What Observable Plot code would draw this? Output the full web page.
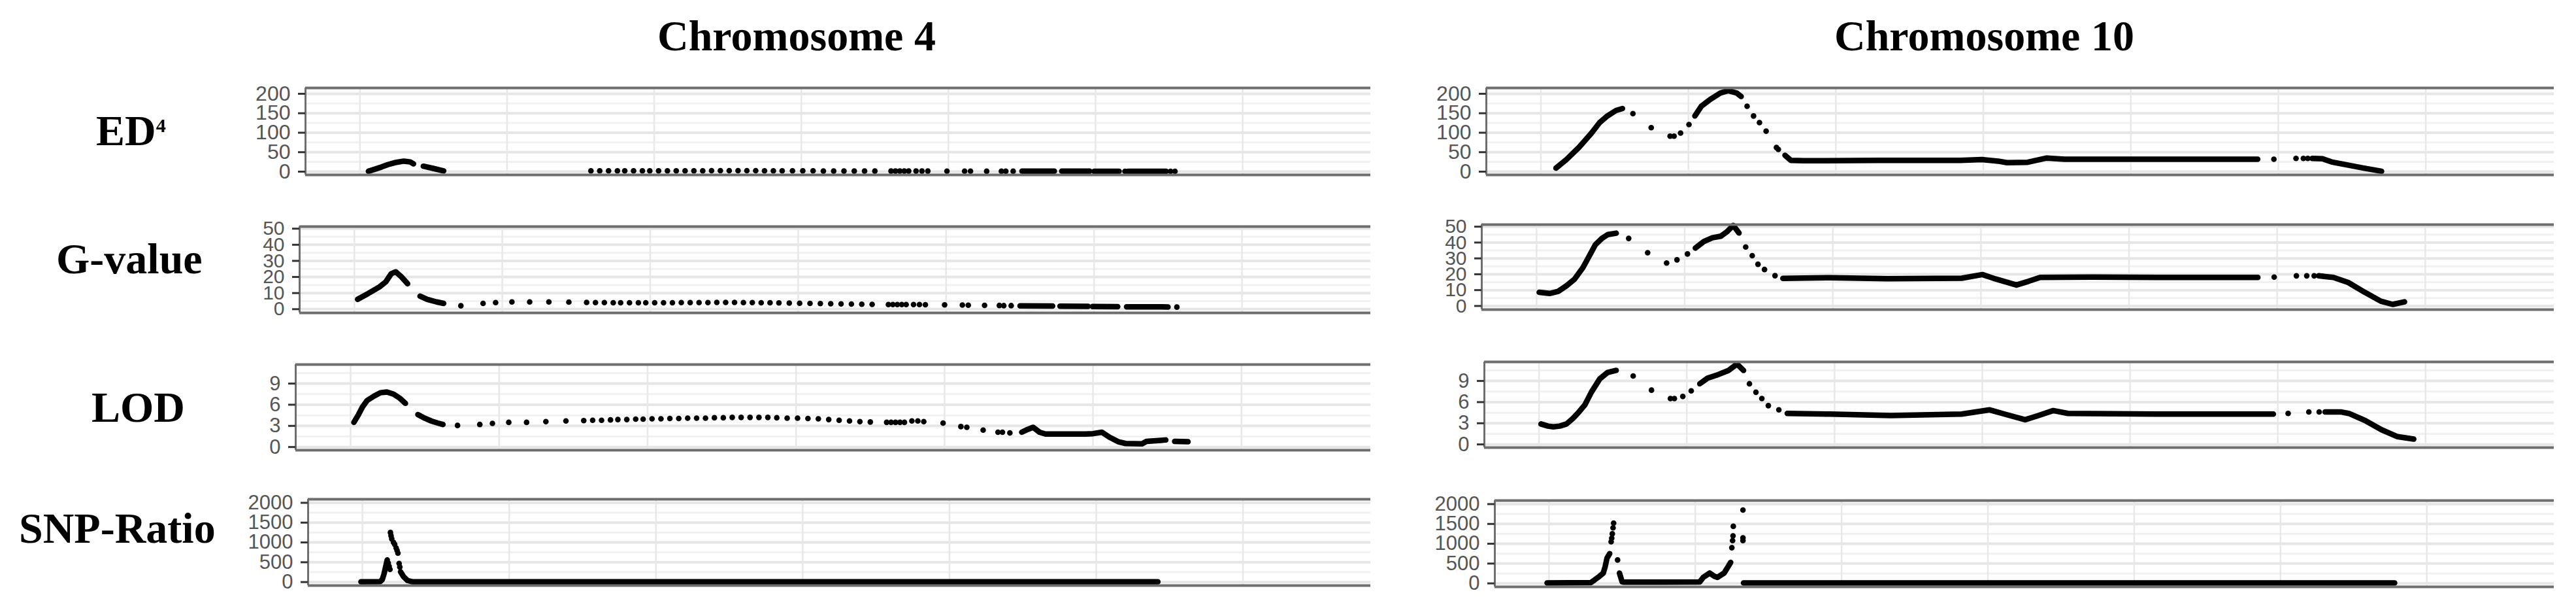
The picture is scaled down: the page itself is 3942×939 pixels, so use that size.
<!DOCTYPE html>
<html><head><meta charset="utf-8">
<script src="https://cdn.jsdelivr.net/npm/d3@7"></script>
<script src="https://cdn.jsdelivr.net/npm/@observablehq/plot@0.6"></script>
<style>
html,body{margin:0;padding:0;background:#fff;}
#root{position:relative;width:3942px;height:939px;overflow:hidden;background:#fff;}
.lbl{position:absolute;font-family:"Liberation Serif","Times New Roman",serif;font-weight:bold;font-size:66px;line-height:66px;white-space:nowrap;color:#000;}
</style></head><body><div id="root"></div>
<script>
// ---------- texts ----------
const columnTitles = ["Chromosome 4", "Chromosome 10"];
const rowLabels = ["ED", "G-value", "LOD", "SNP-Ratio"];

// ---------- axes ----------
const xDomain = [-3.7, 68.7];
const xGrid = [0, 10, 20, 30, 40, 50, 60];
const ed4Domain = [-8.4, 215], ed4Ticks = [0, 50, 100, 150, 200], ed4Minor = [25, 75, 125, 175];
const gDomain = [-2.3, 51.3], gTicks = [0, 10, 20, 30, 40, 50], gMinor = [5, 15, 25, 35, 45];
const lodDomain = [-0.45, 11.7], lodTicks = [0, 3, 6, 9], lodMinor = [1.5, 4.5, 7.5, 10.5];
const snpDomain = [-88, 2090], snpTicks = [0, 500, 1000, 1500, 2000], snpMinor = [250, 750, 1250, 1750];

// ---------- Chromosome 4 ----------
const c4Markers = [7.2, 8.7, 9.55, 10.65, 11.85, 13.15, 14.5,
  15.7, 16.3, 16.9, 17.5, 18.0, 18.6, 19.2, 19.7, 20.3,
  20.9, 21.5, 22.1, 22.7, 23.3, 23.9, 24.5, 25.1, 25.7, 26.3, 26.9, 27.5, 28.1, 28.7,
  29.4, 30.1, 30.8, 31.5, 32.2, 32.9, 33.6, 34.3, 35.0,
  36.1, 36.4, 36.7, 37.0, 37.3,
  37.8, 38.2, 38.6,
  39.9,
  41.1, 41.5,
  42.6,
  43.6, 43.9, 44.4];
const c4Ed4Markers = [null, null, null, null, null, null, null,
  2.0, 2.0, 2.0, 2.0, 2.0, 2.0, 2.0, 2.0, 2.0,
  2.0, 2.0, 2.0, 2.0, 2.0, 2.5, 2.5, 2.5, 2.5, 2.5, 2.5, 2.0, 2.0, 2.0,
  2.0, 2.0, 2.0, 1.5, 1.5, 1.5, 1.5, 1.5, 1.5,
  1.5, 1.5, 1.5, 1.5, 1.5,
  1.5, 1.5, 1.5,
  1.2,
  1.2, 1.2,
  1.0,
  1.0, 1.0, 1.0];
const c4GMarkers = [2.1, 3.6, 4.1, 4.5, 4.5, 4.5, 4.4,
  4.2, 4.1, 4.1, 4.0, 4.0, 4.0, 4.0, 4.0, 4.0,
  4.0, 4.0, 4.1, 4.1, 4.1, 4.1, 4.2, 4.2, 4.2, 4.1, 4.1, 4.0, 4.0, 3.9,
  3.8, 3.7, 3.6, 3.5, 3.4, 3.3, 3.2, 3.1, 3.0,
  2.9, 2.9, 2.9, 2.9, 2.9,
  2.9, 2.9, 2.8,
  2.7,
  2.6, 2.5,
  2.4,
  2.3, 2.2, 2.2];
const c4LodMarkers = [3.06, 3.2, 3.35, 3.5, 3.5, 3.6, 3.7,
  3.75, 3.8, 3.8, 3.85, 3.9, 3.9, 3.95, 3.95, 4.0,
  4.0, 4.05, 4.05, 4.1, 4.1, 4.1, 4.15, 4.15, 4.2, 4.2, 4.2, 4.2, 4.2, 4.15,
  4.1, 4.1, 4.05, 4.0, 3.9, 3.8, 3.7, 3.6, 3.55,
  3.5, 3.5, 3.5, 3.5, 3.5,
  3.7, 3.7, 3.6,
  3.4,
  2.9, 2.8,
  2.4,
  2.1, 2.1, 2.0];

const c4Ed4Runs = [
  [[0.58, 1], [1.0, 6], [1.47, 12], [1.9, 18], [2.36, 23], [2.98, 27], [3.42, 25], [3.64, 20]],
  [[4.31, 14], [5.02, 8], [5.69, 2]],
  [[45.0, 1.2], [47.2, 1.2]], [[47.7, 1.1], [49.6, 1.1]], [[49.9, 1.0], [51.6, 1.0]], [[52.2, 0.9], [54.8, 0.8]]
];
const c4Ed4Dots = [[52.0, 0.9], [55.1, 0.8], [55.4, 0.8]];

const c4GRuns = [
  [[0.22, 6.1], [0.93, 9.7], [1.69, 13.8], [2.13, 17], [2.49, 22], [2.8, 23.2], [3.16, 20.3], [3.6, 15.8]],
  [[4.44, 8.1], [4.93, 6.1], [5.56, 4.5], [6.04, 3.6]],
  [[45.0, 2.1], [47.2, 2.0]], [[47.7, 1.9], [49.6, 1.8]], [[49.9, 1.7], [51.6, 1.6]], [[52.2, 1.5], [55.0, 1.4]]
];
const c4GDots = [[55.6, 1.3]];

const c4LodRuns = [
  [[0.22, 3.5], [0.53, 4.6], [0.8, 5.7], [1.11, 6.6], [1.56, 7.2], [2.0, 7.7], [2.44, 7.8], [2.89, 7.5], [3.33, 6.9], [3.69, 6.2]],
  [[4.53, 4.6], [4.98, 4.1], [5.42, 3.7], [5.87, 3.4], [6.22, 3.2]],
  [[45.2, 2.1], [45.6, 2.5], [45.96, 2.8], [46.4, 2.1], [46.8, 1.85], [49.5, 1.85], [50.0, 1.9], [50.6, 2.1], [51.1, 1.4], [51.7, 0.75], [52.2, 0.5], [53.3, 0.45], [53.6, 0.8], [54.9, 1.0]],
  [[55.5, 0.8], [56.4, 0.75]]
];
const c4LodDots = [];

const c4SnpRuns = [
  [[-0.1, 8], [1.2, 12], [1.35, 60], [1.47, 200], [1.58, 380], [1.69, 560]],
  [[2.6, 260], [2.8, 140], [3.07, 40], [3.4, 8], [54.2, 8]]
];
const c4SnpDots = [[1.76, 480], [1.82, 400], [1.88, 320], [1.91, 1250], [1.95, 1170], [2.0, 1090], [2.12, 1000], [2.2, 950], [2.3, 860], [2.36, 800], [2.42, 730], [2.5, 470], [2.55, 380]];

// ---------- Chromosome 10 ----------
const c10Ed4Runs = [
  [[1.02, 9], [1.73, 31], [2.57, 62], [3.41, 98], [3.98, 126], [4.51, 143], [5.09, 157], [5.53, 162]],
  [[10.44, 143], [10.88, 168], [11.46, 185], [12.17, 202], [12.7, 208], [13.27, 202], [13.58, 193]],
  [[16.55, 42], [16.95, 29], [17.8, 28], [23.0, 29], [28.45, 29], [29.9, 31], [31.0, 27], [31.6, 23], [33.0, 24], [34.3, 35], [35.5, 32], [41.7, 32], [48.6, 32]],
  [[52.3, 34], [53.0, 33], [53.6, 25], [54.7, 17], [55.8, 9], [57.0, 1]]
];
const c10Ed4Dots = [[6.24, 149], [7.48, 113], [8.76, 91], [9.03, 91], [9.47, 99], [10.04, 121],
  [13.98, 168], [14.42, 143], [14.82, 126], [15.27, 104], [15.97, 62], [16.1, 57],
  [49.7, 32], [51.2, 34], [51.7, 34], [52.0, 34]];

const c10GRuns = [
  [[0.18, 8.6], [0.88, 7.9], [1.46, 9.2], [2.03, 12.8], [2.56, 16.9], [3.13, 24.2], [3.57, 31.7], [3.97, 38.6], [4.41, 42.6], [4.81, 45], [5.38, 45.9]],
  [[10.72, 36.5], [11.29, 40.6], [11.87, 43], [12.44, 44], [12.84, 46.7], [13.28, 50.8], [13.67, 46]],
  [[16.63, 17.4], [19.85, 17.8], [23.7, 17.2], [28.7, 17.5], [30.1, 19.8], [31.0, 17], [32.4, 13.2], [33.2, 15.5], [34.0, 18], [37.5, 18.2], [41.9, 18], [48.7, 18]],
  [[52.8, 19], [53.8, 18], [54.8, 14.8], [55.9, 8.7], [57.0, 3], [57.8, 1], [58.6, 2.6]]
];
const c10GDots = [[6.22, 42.6], [7.5, 33.6], [8.78, 27.1], [9.48, 29.1], [10.19, 32.8],
  [14.12, 37.2], [14.56, 31.7], [14.95, 26.3], [15.39, 23], [16.1, 19.1],
  [49.8, 18.2], [51.3, 19], [52.0, 19], [52.5, 19]];

const c10LodRuns = [
  [[0.13, 2.9], [0.6, 2.6], [0.97, 2.5], [1.4, 2.6], [1.86, 2.9], [2.3, 3.7], [2.7, 4.6], [3.1, 5.6], [3.54, 7.4], [4.11, 9.3], [4.64, 10.2], [5.22, 10.5]],
  [[10.88, 8.6], [11.41, 9.4], [12.12, 9.9], [12.83, 10.5], [13.4, 11.4], [13.84, 10.5]],
  [[16.8, 4.4], [19.7, 4.3], [23.8, 4.1], [28.6, 4.3], [30.5, 4.9], [31.5, 4.3], [32.9, 3.5], [33.8, 4.1], [34.8, 4.8], [35.8, 4.4], [41.8, 4.3], [49.7, 4.3]],
  [[53.2, 4.6], [54.3, 4.6], [54.8, 4.4], [55.9, 3.4], [57.0, 2.1], [58.1, 1.1], [59.2, 0.75]]
];
const c10LodDots = [[6.37, 9.7], [7.61, 7.7], [8.89, 6.5], [9.16, 6.5], [9.73, 6.8], [10.3, 7.6],
  [14.24, 8.6], [14.68, 7.4], [15.08, 6.5], [15.52, 5.5], [16.23, 4.9],
  [50.7, 4.4], [52.1, 4.6], [52.8, 4.6]];

const c10SnpRuns = [
  [[-0.13, 10], [2.86, 20], [3.13, 90], [3.44, 175], [3.71, 260], [3.84, 420], [3.97, 640], [4.15, 750]],
  [[4.82, 260], [5.0, 40], [5.14, 30], [10.3, 35], [10.54, 150], [10.99, 260], [11.3, 180], [11.52, 150], [11.97, 260], [12.24, 420], [12.42, 530]],
  [[13.3, 10], [57.8, 10]]
];
const c10SnpDots = [[4.25, 1050], [4.29, 1140], [4.33, 1250], [4.38, 1400], [4.42, 1520], [4.69, 590],
  [12.5, 900], [12.55, 1080], [12.58, 1200], [12.6, 1440], [13.26, 1850], [13.26, 1150], [13.26, 1080]];

// ---------- layout (page pixels) ----------
const root = document.getElementById("root");

function addLabel(html, left, top) {
  const d = document.createElement("div");
  d.className = "lbl";
  d.style.left = left + "px";
  d.style.top = top + "px";
  d.innerHTML = html;
  root.appendChild(d);
}

function panel(o) {
  const mt = 25, mb = 20, mr = 10;
  const ml = o.panelLeft - o.left;
  const width = o.right + mr - o.left;
  const height = o.bottom - o.top + mt + mb;
  const lineData = o.runs.flatMap((seg, i) => seg.map(([x, y]) => ({x, y, s: i})));
  const dotData = o.dots.filter(d => d[1] != null).map(([x, y]) => ({x, y}));
  const chart = Plot.plot({
    width, height, marginLeft: ml, marginRight: mr, marginTop: mt, marginBottom: mb,
    style: {fontFamily: "'Liberation Sans', Arial, sans-serif", background: "transparent", overflow: "visible"},
    x: {domain: xDomain, axis: null},
    y: {domain: o.yDomain, axis: null},
    marks: [
      Plot.gridY(o.yMinor, {stroke: "#f1f1f1", strokeWidth: 3, strokeOpacity: 1}),
      Plot.gridY(o.yTicks, {stroke: "#e6e6e6", strokeWidth: 4, strokeOpacity: 1}),
      Plot.gridX(xGrid, {stroke: "#e8e8e8", strokeWidth: 2.5, strokeOpacity: 1}),
      Plot.line(lineData, {x: "x", y: "y", z: "s", stroke: "#000", strokeWidth: 8.5, strokeLinecap: "round", strokeLinejoin: "round"}),
      Plot.dot(dotData, {x: "x", y: "y", r: 4.3, fill: "#000", stroke: null}),
      Plot.ruleY([o.yDomain[1]], {stroke: "#6e6e6e", strokeWidth: 4}),
      Plot.ruleY([o.yDomain[0]], {stroke: "#6e6e6e", strokeWidth: 4}),
      Plot.ruleX([xDomain[0]], {stroke: "#6e6e6e", strokeWidth: 3}),
      Plot.axisY(o.yTicks, {label: null, tickSize: 11, tickPadding: 12, fontSize: o.fontSize, stroke: "#333", strokeWidth: 3, fill: "#555", tickFormat: d => String(d)})
    ]
  });
  chart.style.position = "absolute";
  chart.style.left = o.left + "px";
  chart.style.top = (o.top - mt) + "px";
  root.appendChild(chart);
}

const markerDots = (vals) => c4Markers.map((x, i) => [x, vals[i]]);

// Chromosome 4 column
panel({left: 330, right: 2097, panelLeft: 467, top: 134, bottom: 267, yDomain: ed4Domain, yTicks: ed4Ticks, yMinor: ed4Minor, fontSize: 32,
  runs: c4Ed4Runs, dots: markerDots(c4Ed4Markers).concat(c4Ed4Dots)});
panel({left: 330, right: 2097, panelLeft: 458, top: 346, bottom: 478, yDomain: gDomain, yTicks: gTicks, yMinor: gMinor, fontSize: 30,
  runs: c4GRuns, dots: markerDots(c4GMarkers).concat(c4GDots)});
panel({left: 330, right: 2097, panelLeft: 452, top: 557, bottom: 688, yDomain: lodDomain, yTicks: lodTicks, yMinor: lodMinor, fontSize: 31,
  runs: c4LodRuns, dots: markerDots(c4LodMarkers).concat(c4LodDots)});
panel({left: 330, right: 2097, panelLeft: 471, top: 763, bottom: 895, yDomain: snpDomain, yTicks: snpTicks, yMinor: snpMinor, fontSize: 31,
  runs: c4SnpRuns, dots: c4SnpDots});

// Chromosome 10 column
panel({left: 2150, right: 3908, panelLeft: 2274, top: 134, bottom: 267, yDomain: ed4Domain, yTicks: ed4Ticks, yMinor: ed4Minor, fontSize: 32,
  runs: c10Ed4Runs, dots: c10Ed4Dots});
panel({left: 2150, right: 3908, panelLeft: 2267, top: 343, bottom: 473, yDomain: gDomain, yTicks: gTicks, yMinor: gMinor, fontSize: 30,
  runs: c10GRuns, dots: c10GDots});
panel({left: 2150, right: 3908, panelLeft: 2271, top: 553, bottom: 684, yDomain: lodDomain, yTicks: lodTicks, yMinor: lodMinor, fontSize: 31,
  runs: c10LodRuns, dots: c10LodDots});
panel({left: 2150, right: 3908, panelLeft: 2287, top: 765, bottom: 897, yDomain: snpDomain, yTicks: snpTicks, yMinor: snpMinor, fontSize: 31,
  runs: c10SnpRuns, dots: c10SnpDots});

// titles and row labels
addLabel(columnTitles[0], 1006, 22);
addLabel(columnTitles[1], 2807, 22);
addLabel(rowLabels[0] + '<span style="font-size:30px;line-height:0;vertical-align:20px">4</span>', 147, 167);
addLabel(rowLabels[1], 86, 363);
addLabel(rowLabels[2], 140, 590);
addLabel(rowLabels[3], 29, 775);
</script></body></html>
